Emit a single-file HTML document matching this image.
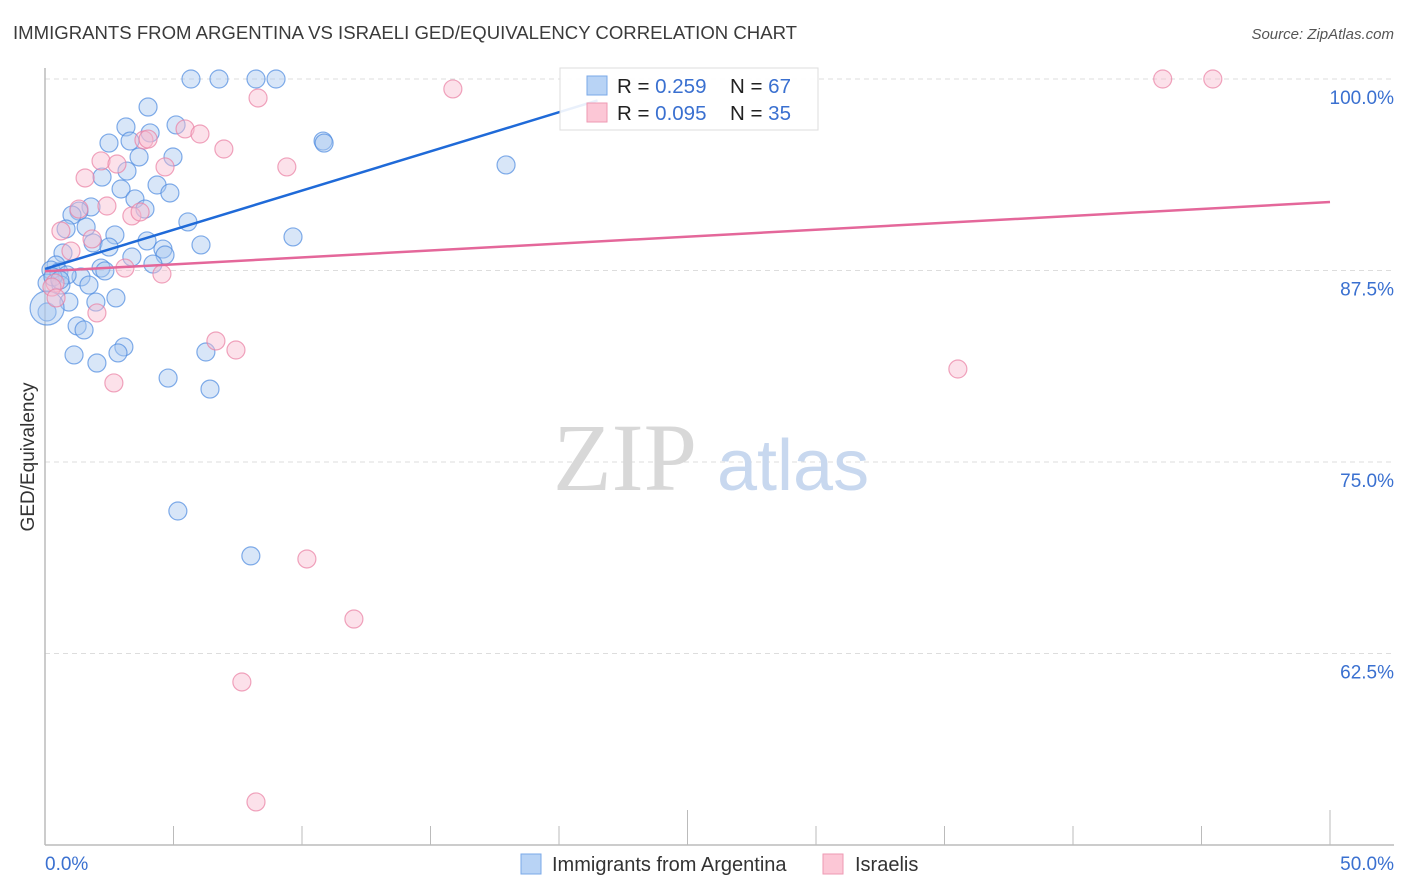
<!DOCTYPE html>
<html><head><meta charset="utf-8"><style>
body{margin:0;background:#fff;font-family:"Liberation Sans",sans-serif;}
svg{display:block}
</style></head><body>
<svg id="chart" width="1406" height="892">
<text x="13" y="39" font-size="18" fill="#3a3a3a" textLength="784" lengthAdjust="spacingAndGlyphs">IMMIGRANTS FROM ARGENTINA VS ISRAELI GED/EQUIVALENCY CORRELATION CHART</text>
<text x="1394" y="39" font-size="15" fill="#555" font-style="italic" text-anchor="end">Source: ZipAtlas.com</text>
<g id="grid"></g>
<g>
<text x="553" y="490" font-family="Liberation Serif,serif" font-size="96" fill="#d8d8d8">ZIP</text>
<text x="717" y="490" font-size="72" fill="#c8d8ef">atlas</text>
</g>
<line x1="45" y1="68" x2="45" y2="845" stroke="#bbb" stroke-width="1.5"/>
<line x1="45" y1="845" x2="1394" y2="845" stroke="#bbb" stroke-width="1.5"/>
<g id="ticks"></g>
<g id="ylabels"></g>
<text x="45" y="870" font-size="19" fill="#3a70d0">0.0%</text>
<text x="1394" y="870" font-size="19" fill="#3a70d0" text-anchor="end">50.0%</text>
<text transform="translate(34,457) rotate(-90)" font-size="19" fill="#333" text-anchor="middle">GED/Equivalency</text>
<g id="pts"></g>
<g id="lines"></g>
<g>
<rect x="560" y="68" width="258" height="62" fill="#fff" fill-opacity="0.9" stroke="#ddd"/>
<rect x="587" y="76" width="20" height="19" fill="#b8d3f5" stroke="#7aa8e8"/>
<rect x="587" y="103" width="20" height="19" fill="#fcc7d6" stroke="#ee9ab3"/>
<text x="617" y="93" font-size="20.5" fill="#222">R = <tspan fill="#3a70d0">0.259</tspan><tspan x="730">N = </tspan><tspan fill="#3a70d0">67</tspan></text>
<text x="617" y="120" font-size="20.5" fill="#222">R = <tspan fill="#3a70d0">0.095</tspan><tspan x="730">N = </tspan><tspan fill="#3a70d0">35</tspan></text>
</g>
<g>
<rect x="521" y="854" width="20" height="20" fill="#b8d3f5" stroke="#7aa8e8"/>
<text x="552" y="871" font-size="20" fill="#333">Immigrants from Argentina</text>
<rect x="823" y="854" width="20" height="20" fill="#fcc7d6" stroke="#ee9ab3"/>
<text x="855" y="871" font-size="20" fill="#333">Israelis</text>
</g>
</svg>
<script>
const blueX=[5.68,6.77,8.21,8.99,4.01,5.10,3.15,4.09,2.49,3.31,10.82,10.86,3.66,4.98,17.94,3.19,2.22,2.96,4.36,4.86,3.50,1.79,3.89,1.32,1.05,5.56,1.60,0.82,2.72,9.65,3.97,6.07,1.87,2.49,4.59,0.70,4.67,3.38,4.20,2.18,0.43,0.23,0.54,2.33,1.40,0.86,1.71,0.08,0.62,2.76,1.98,0.93,0.08,1.25,1.52,3.07,2.84,6.26,1.13,2.02,4.79,6.42,5.17,8.01,0.31,0.58,0.08];
const blueY=[100,100,100,100,98.17,97.0,96.87,96.48,95.82,95.95,95.95,95.82,94.91,94.91,94.39,93.99,93.60,92.82,93.08,92.56,92.17,91.65,91.51,91.38,91.12,90.67,90.34,90.21,89.82,89.69,89.43,89.17,89.30,89.03,88.90,88.64,88.51,88.38,87.92,87.66,87.86,87.53,87.40,87.47,87.08,87.21,86.55,86.68,86.55,85.71,85.44,85.44,84.79,83.88,83.62,82.51,82.12,82.18,81.99,81.46,80.48,79.76,71.80,68.87,87.08,86.88,85.05];
const pinkX=[43.49,45.44,15.87,8.29,5.45,6.03,3.85,4.01,6.96,2.18,2.80,4.67,9.41,1.56,2.41,1.32,3.38,3.70,0.62,1.83,1.01,3.11,4.55,0.39,0.27,0.43,2.02,6.65,7.43,2.68,35.52,10.19,12.02,7.66,8.21];
const pinkY=[100,100,99.35,98.76,96.74,96.41,96.02,96.08,95.43,94.65,94.45,94.26,94.26,93.54,91.71,91.51,91.06,91.32,90.08,89.56,88.77,87.66,87.27,86.68,86.42,85.71,84.73,82.90,82.31,80.16,81.07,68.67,64.75,60.64,52.81];
const yTicks=[100,87.5,75,62.5];
const yTickLabels=["100.0%","87.5%","75.0%","62.5%"];
const xTicks=[0,5,10,15,20,25,30,35,40,45,50];
const blueTrend=[[0,87.6],[21.5,98.6]];
const pinkTrend=[[0,87.45],[50,91.97]];
const NS="http://www.w3.org/2000/svg";
const sx=v=>45+v/50*1285, sy=v=>79+(100-v)/12.5*191.5;
function mk(t,a,p){const e=document.createElementNS(NS,t);for(const k in a)e.setAttribute(k,a[k]);p.appendChild(e);return e;}
const grid=document.getElementById('grid'),yl=document.getElementById('ylabels');
yTicks.forEach((v,i)=>{
 const l=mk('line',{x1:45,x2:1394,y1:sy(v),y2:sy(v),stroke:'#ddd','stroke-dasharray':'5,4'},grid);
 
 
 const t=mk('text',{x:1394,y:sy(v)+25,'font-size':19,fill:'#3a70d0','text-anchor':'end'},yl);
 t.textContent=yTickLabels[i];
 
 
});
const tk=document.getElementById('ticks');
xTicks.forEach((v,i)=>{
 const tall=(v===25||v===50);
 const l=mk('line',{x1:sx(v),x2:sx(v),y1:tall?810:826,y2:845,stroke:'#bbb'},tk);
 
 
});
const pts=document.getElementById('pts');
function dots(X,Y,fill,stroke,name,big){
 X.forEach((x,i)=>{
  let r=9;
  if(big&&i===X.length-1) r=17;
  const c=mk('circle',{cx:sx(x),cy:sy(Y[i]),r:r,fill:fill,'fill-opacity':0.45,stroke:stroke,'stroke-opacity':0.7,'stroke-width':1.2},pts);
  
  
 });
}
dots(blueX,blueY,'#a9c8f0','#4d8ae0','argentina-point',true);
dots(pinkX,pinkY,'#f9bcd0','#e97fa2','israelis-point',false);
const ln=document.getElementById('lines');
const b=mk('line',{x1:sx(blueTrend[0][0]),y1:sy(blueTrend[0][1]),x2:sx(blueTrend[1][0]),y2:sy(blueTrend[1][1]),stroke:'#1f6ad8','stroke-width':2.5},ln);


const p=mk('line',{x1:sx(pinkTrend[0][0]),y1:sy(pinkTrend[0][1]),x2:sx(pinkTrend[1][0]),y2:sy(pinkTrend[1][1]),stroke:'#e4679a','stroke-width':2.5},ln);


</script>
</body></html>
